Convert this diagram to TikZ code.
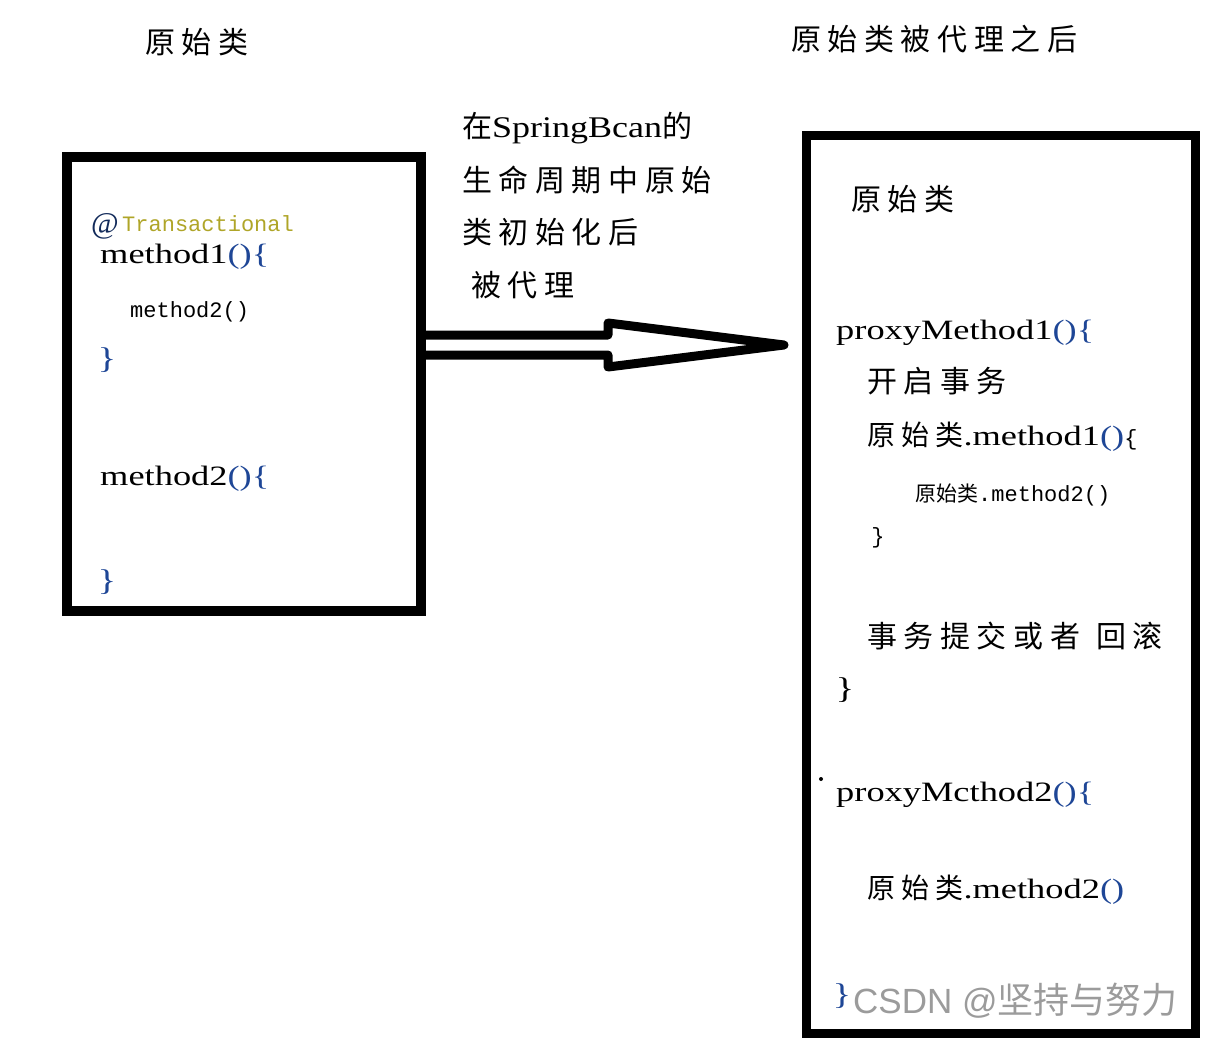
\documentclass[tikz,border=0pt]{standalone}
\usepackage{fontspec}
\setmainfont{Liberation Serif}
\newfontfamily\cjkfont{Noto Sans CJK SC}[LetterSpace=22]
\newfontfamily\cjkplain{Noto Sans CJK SC}
\newfontfamily\srcfont{Liberation Serif}[FakeStretch=1.3]
\newfontfamily\notefont{Liberation Serif}[FakeStretch=1.2]
\newfontfamily\ttcode{Liberation Mono}
\newfontfamily\wmfont{Liberation Sans}
\usetikzlibrary{calc,positioning}
\definecolor{codeblue}{RGB}{30,70,150}
\definecolor{annot}{RGB}{175,165,40}
\definecolor{wmgray}{RGB}{155,155,155}

\begin{document}
\begin{tikzpicture}[x=1pt,y=-1pt,
    cjk/.style={font=\cjkfont\fontsize{30}{36}\selectfont, inner sep=0pt, anchor=base west},
    src/.style={font=\srcfont\fontsize{28}{34}\selectfont, inner sep=0pt, anchor=base west},
    small/.style={font=\ttcode\fontsize{22}{26}\selectfont, inner sep=0pt, anchor=base west},
    brace/.style={font=\srcfont\fontsize{30}{36}\selectfont, inner sep=0pt, text=codeblue},
    classbox/.style={draw, rectangle, inner sep=0pt}]
  \useasboundingbox (0,0) rectangle (1212,1044);

  % titles
  \node[cjk] (titleorig) at (145,53) {原始类};
  \node[cjk] (titleproxy) at (791,50) {原始类被代理之后};

  % original class
  \node[classbox, line width=10pt, minimum width=354pt, minimum height=454pt] (origbox) at (244,384) {};
  \node[src, font=\fontsize{30}{34}\selectfont, text=codeblue!60!black] (atsign) at (91,233) {@};
  \node[small, text=annot] (annotation) at (122,231) {Transactional};
  \node[src] (m1) at (100,263) {method1{\color{codeblue}()\{}};
  \node[small] (call2) at (130,317) {method2()};
  \node[brace] (m1end) at (107,360) {\}};
  \node[src] (m2) at (100,485) {method2{\color{codeblue}()\{}};
  \node[brace] (m2end) at (107,582) {\}};

  % proxy class
  \node[classbox, line width=9pt, minimum width=389pt, minimum height=898pt] (proxybox) at (1000.5,584) {};
  \node[cjk] (inner) at (851,210) {原始类};
  \node[src] (p1) at (836,339) {proxyMethod1{\color{codeblue}()\{}};
  \node[cjk] (begin) at (867,392) {开启事务};
  \node[src] (callm1) at (867,445) {{\cjkfont 原始类}.method1{\color{codeblue}()}{\ttcode\fontsize{22}{26}\selectfont\{}};
  \node[small] (callm2) at (915,501) {{\cjkplain\fontsize{21}{24}\selectfont 原始类}.method2()};
  \node[small, anchor=center] (callm1end) at (878,538) {\}};
  \node[cjk] (commit) at (867,647) {事务提交或者\hspace{16pt}回滚};
  \node[brace, text=black] (p1end) at (845,690) {\}};
  \fill (821,779) circle (2);
  \node[src] (p2) at (836,801) {proxyMcthod2{\color{codeblue}()\{}};
  \node[src] (callp2) at (867,898) {{\cjkfont 原始类}.method2{\color{codeblue}()}};
  \node[brace] (p2end) at (842,996) {\}};
  \node[font=\wmfont\fontsize{35}{40}\selectfont, text=wmgray, inner sep=0pt, anchor=base west] (mark) at (853,1013) {CSDN @{\cjkplain\fontsize{36}{40}\selectfont 坚持与努力}};

  % note on the arrow
  \node[cjk] (note1) at (462,137) {在{\notefont SpringBcan}的};
  \node[cjk] (note2) at (462,191) {生命周期中原始};
  \node[cjk] (note3) at (462,243) {类初始化后};
  \node[cjk] (note4) at (471,296) {被代理};

  % hollow arrow
  \coordinate (tip) at (784,345);
  \draw[line width=9pt, line join=round]
    ($(origbox.east |- tip)+(0,-10)$) -- ($(tip)+(-176,-10)$) -- ($(tip)+(-176,-22)$)
    -- (tip) -- ($(tip)+(-176,22)$) -- ($(tip)+(-176,10)$) -- ($(origbox.east |- tip)+(0,10)$);
\end{tikzpicture}
\end{document}
